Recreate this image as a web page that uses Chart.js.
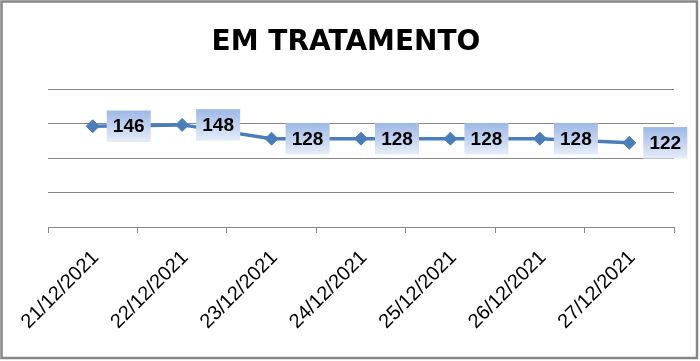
<!DOCTYPE html>
<html>
<head>
<meta charset="utf-8">
<script src="https://cdn.jsdelivr.net/npm/chart.js@4"></script>
<style>
  body { margin: 0; background: #fff; }
</style>
</head>
<body>
<canvas id="emTratamento" width="700" height="361"></canvas>
<script>
const ctx = document.getElementById('emTratamento').getContext('2d');

// Dados
const titulo = 'EM TRATAMENTO';
const datas = ['21/12/2021', '22/12/2021', '23/12/2021', '24/12/2021', '25/12/2021', '26/12/2021', '27/12/2021'];
const emTratamento = [146, 148, 128, 128, 128, 128, 122];
const eixoY = [0, 50, 100, 150, 200];

const cinza = '#868686';
const azul = '#4a7ebb';

// Titulo e moldura
const tituloPlugin = {
    id: 'tituloPlugin',
    afterDraw(chart) {
        const c = chart.ctx;
        c.save();
        c.font = 'bold 28px "DejaVu Sans", sans-serif';
        c.fillStyle = '#000';
        c.textAlign = 'center';
        c.textBaseline = 'middle';
        c.fillText(titulo, 346, 43);
        c.restore();
        c.save();
        c.strokeStyle = cinza;
        c.lineWidth = 2.5;
        c.strokeRect(1.5, 1.5, 695.5, 356.5);
        c.restore();
    }
};

// Caixas dos valores, a direita de cada ponto
const rotulosPlugin = {
    id: 'rotulosPlugin',
    afterDatasetsDraw(chart) {
        const c = chart.ctx;
        const meta = chart.getDatasetMeta(0);
        c.save();
        meta.data.forEach((pt, i) => {
            const cx = pt.x + 36, cy = pt.y;
            const w = 44, h = 31.5;
            const g = c.createLinearGradient(0, cy - h / 2, 0, cy + h / 2);
            g.addColorStop(0, '#9db8e6');
            g.addColorStop(1, '#e6edf8');
            c.fillStyle = g;
            c.fillRect(cx - w / 2, cy - h / 2, w, h);
            c.fillStyle = '#000';
            c.font = 'bold 19px "Liberation Sans", Arial, sans-serif';
            c.textAlign = 'center';
            c.textBaseline = 'middle';
            c.fillText(emTratamento[i], cx, cy + 1);
        });
        c.restore();
    }
};

const config = {
    type: 'line',
    data: {
        labels: datas,
        datasets: [{
            data: emTratamento,
            borderColor: azul,
            backgroundColor: azul,
            borderWidth: 3.5,
            pointStyle: 'rectRot',
            pointRadius: 6.5,
            pointBorderWidth: 1,
            pointBackgroundColor: azul,
            pointBorderColor: azul,
            tension: 0
        }]
    },
    options: {
        responsive: false,
        devicePixelRatio: 1,
        animation: false,
        layout: { padding: { top: 89, right: 26, left: 0, bottom: 0 } },
        plugins: {
            legend: { display: false },
            title: { display: false },
            tooltip: { enabled: false }
        },
        scales: {
            x: {
                offset: true,
                grid: {
                    offset: true,
                    drawOnChartArea: false,
                    drawTicks: true,
                    tickLength: 6,
                    color: cinza
                },
                border: { display: true, color: cinza, width: 1 },
                ticks: {
                    minRotation: 45,
                    maxRotation: 45,
                    color: '#000',
                    padding: 13,
                    labelOffset: 3,
                    font: { family: '"Liberation Sans", Arial, sans-serif', size: 20 }
                },
                afterFit(s) { s.height = 134; }
            },
            y: {
                min: eixoY[0],
                max: eixoY[eixoY.length - 1],
                afterBuildTicks(s) { s.ticks = eixoY.map(v => ({ value: v })); },
                ticks: { display: false },
                grid: { color: cinza, drawTicks: false },
                border: { display: false },
                afterFit(s) { s.width = 48; }
            }
        }
    },
    plugins: [rotulosPlugin, tituloPlugin]
};

const grafico = new Chart(ctx, config);
</script>
</body>
</html>
